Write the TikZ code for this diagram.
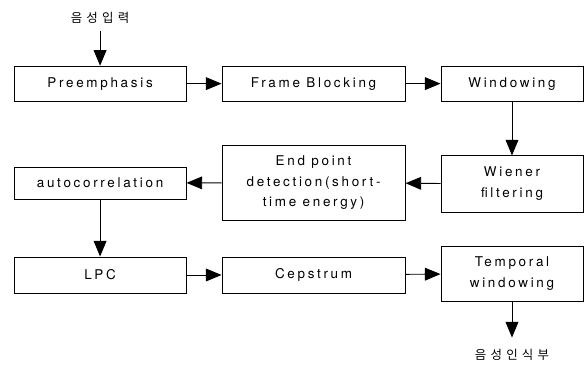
\documentclass[tikz,border=0pt]{standalone}
\usepackage{fontspec}
\usepackage{tikz}
\usetikzlibrary{arrows.meta, positioning, calc}
\setmainfont{TeX Gyre Heros}[LetterSpace=20]
\newfontfamily\kofont{Noto Sans CJK KR}[LetterSpace=34]

\begin{document}
\begin{tikzpicture}[
        procbox/.style={draw, line width=0.9pt, align=center, inner sep=0pt},
        arr/.style={line width=0.9pt, -{Triangle[length=5.5mm, width=4.5mm]}},
        font=\fontsize{13.5}{21}\selectfont
    ]
        \useasboundingbox (0,0) rectangle (20.60,12.88);

        % First row
        \node[procbox, minimum width=6.07cm, minimum height=1.23cm] (pre) at (3.53,9.93) {Preemphasis};
        \node[procbox, minimum width=6.46cm, minimum height=1.23cm] (frame) at (11.06,9.93) {Frame Blocking};
        \node[procbox, minimum width=5.01cm, minimum height=1.23cm] (win) at (18.06,9.93) {Windowing};

        % Second row
        \node[procbox, minimum width=6.07cm, minimum height=1.13cm] (auto) at (3.53,6.42) {autocorrelation};
        \node[procbox, minimum width=6.46cm, minimum height=2.65cm] (endp) at (11.06,6.44) {End point\\detection(short-\\time energy)};
        \node[procbox, minimum width=5.01cm, minimum height=1.98cm] (wien) at (18.06,6.39) {Wiener\\filtering};

        % Third row
        \node[procbox, minimum width=6.07cm, minimum height=1.27cm] (lpc) at (3.53,3.18) {LPC};
        \node[procbox, minimum width=6.46cm, minimum height=1.27cm] (cep) at (11.06,3.18) {Cepstrum};
        \node[procbox, minimum width=5.01cm, minimum height=1.94cm] (temp) at (18.06,3.23) {Temporal\\windowing};

        % Input and output
        \node[font=\fontsize{12.5}{15}\selectfont] (inp) at (3.53,12.26) {\kofont 음성입력};
        \node[font=\fontsize{12.5}{15}\selectfont] (outp) at (18.06,0.35) {\kofont 음성인식부};

        % Arrows
        \draw[arr, shorten <=4pt] (inp) -- (pre);
        \draw[arr] (pre) -- (frame);
        \draw[arr] (frame) -- (win);
        \draw[arr] (win) -- (wien);
        \draw[arr] (wien) -- (endp);
        \draw[arr] (endp) -- (auto);
        \draw[arr] (auto) -- (lpc);
        \draw[arr] (lpc) -- (cep);
        \draw[arr] (cep) -- (temp);
        \draw[arr, shorten >=3mm] (temp) -- (outp);
    \end{tikzpicture}
\end{document}
